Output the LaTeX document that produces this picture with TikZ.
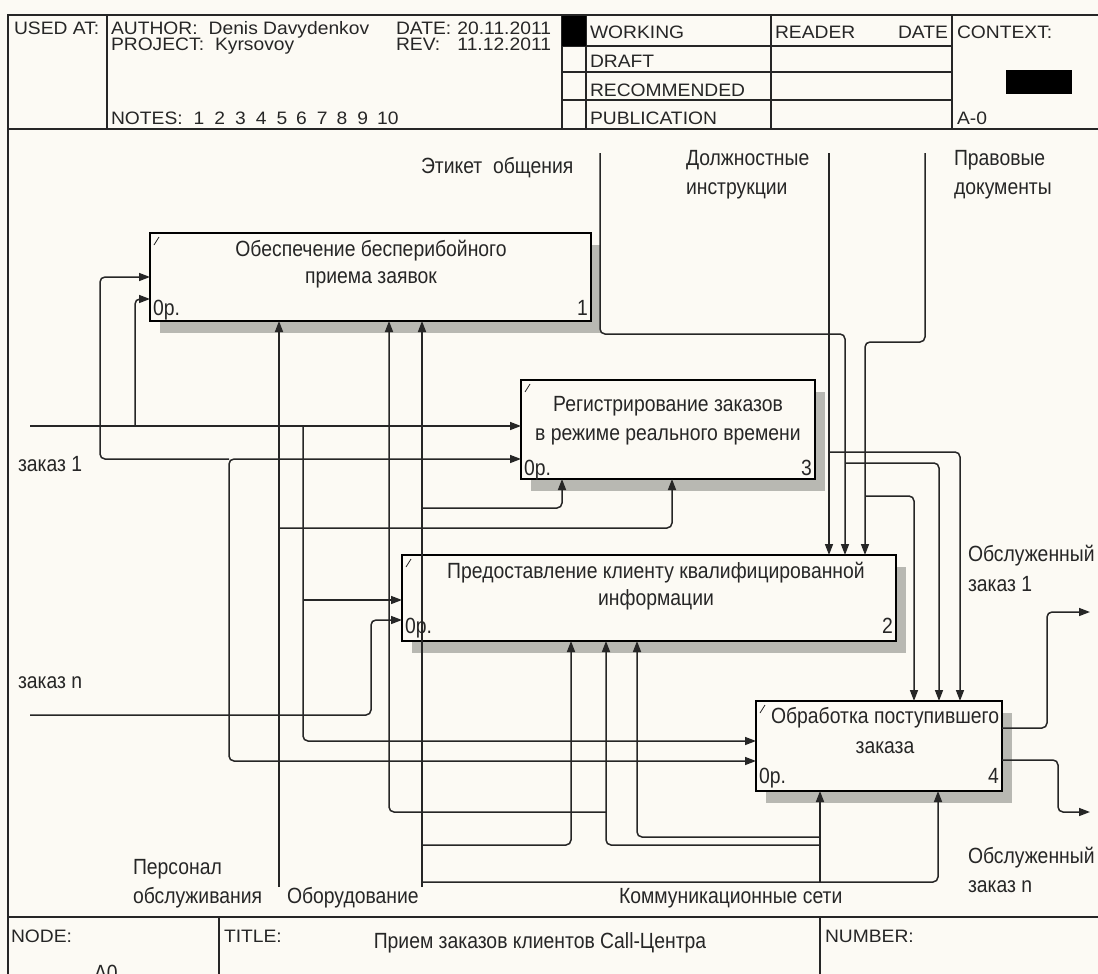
\documentclass[tikz,border=0pt]{standalone}
\usepackage{fontspec}
\setmainfont{Liberation Sans}
\newfontfamily\cond[FakeStretch=0.88]{Liberation Sans}
\newfontfamily\wide[FakeStretch=1.07]{Liberation Sans}
\usetikzlibrary{arrows.meta,shadows}
\definecolor{paper}{RGB}{252,250,244}
\definecolor{ink}{RGB}{38,38,38}
\definecolor{shade}{RGB}{184,184,178}
\begin{document}
\begin{tikzpicture}[x=1pt,y=-1pt,
  every node/.style={inner sep=0pt,outer sep=0pt,text=ink,font=\cond\fontsize{22}{26}\selectfont},
  lbl/.style={anchor=base west},
  lblc/.style={anchor=base},
  lblr/.style={anchor=base east},
  hdr/.style={font=\wide\fontsize{18}{20}\selectfont},
  frame/.style={draw=ink,line width=1.6pt},
  rule/.style={draw=ink,line width=1.3pt},
  proc/.style={draw=black,line width=1.7pt,fill=paper,anchor=north west,
     general shadow={fill=shade,shadow xshift=10pt,shadow yshift=-12pt}},
  tick/.style={draw=ink,line width=0.8pt},
  conn/.style={draw=ink,line width=1.5pt,rounded corners=5pt},
  arr/.style={conn,-{Triangle[length=11pt,width=8pt]}}]

\fill[paper] (0,0) rectangle (1098,974);
\useasboundingbox (0,0) rectangle (1098,974);

% ---------------- header ----------------
\draw[frame] (1098,15) -- (8,15) -- (8,974);
\draw[frame] (8,129) -- (1098,129);
\draw[frame] (8,917) -- (1098,917);
\draw[rule] (107,15) -- (107,129);
\draw[rule] (562,15) -- (562,129);
\draw[rule] (586,15) -- (586,129);
\draw[rule] (771,15) -- (771,129);
\draw[rule] (952,15) -- (952,129);
\draw[rule] (562,46) -- (952,46);
\draw[rule] (562,72) -- (952,72);
\draw[rule] (562,100) -- (952,100);
\fill[black] (562,16) rectangle (586,46);
\fill[black] (1006,70) rectangle (1072,94);

\node[lbl,hdr] (usedat) at (14,35) {USED AT:};
\node[lbl,hdr] (author) at (111,35) {AUTHOR:\hspace{11pt}Denis Davydenkov};
\node[lbl,hdr] (project) at (111,51) {PROJECT:\hspace{11pt}Kyrsovoy};
\node[lbl,hdr] (notes) at (111,124) {NOTES:\hspace{11pt}1\hspace{10pt}2\hspace{10pt}3\hspace{10pt}4\hspace{10pt}5\hspace{9pt}6\hspace{10pt}7\hspace{9pt}8\hspace{10pt}9\hspace{9pt}10};
\node[lbl,hdr] (datel) at (396,35) {DATE:};
\node[lblr,hdr] (datev) at (551,35) {20.11.2011};
\node[lbl,hdr] (revl) at (396,51) {REV:};
\node[lblr,hdr] (revv) at (551,51) {11.12.2011};
\node[lbl,hdr] (working) at (590,39) {WORKING};
\node[lbl,hdr] (draft) at (590,68) {DRAFT};
\node[lbl,hdr] (recom) at (590,96) {RECOMMENDED};
\node[lbl,hdr] (publ) at (590,124) {PUBLICATION};
\node[lbl,hdr] (reader) at (775,39) {READER};
\node[lblr,hdr] (rdate) at (948,39) {DATE};
\node[lbl,hdr] (context) at (957,39) {CONTEXT:};
\node[lbl,hdr] (aminus) at (957,124) {A-0};

% ---------------- footer ----------------
\draw[rule] (219,917) -- (219,974);
\draw[rule] (820,917) -- (820,974);
\node[lbl,hdr] (nodel) at (11,942) {NODE:};
\node[lbl,hdr] (titlel) at (224,942) {TITLE:};
\node[lblc] (titlev) at (540,948) {Прием заказов клиентов Call-Центра};
\node[lbl,hdr] (numberl) at (825,942) {NUMBER:};
\node[lbl] (anode) at (94,980) {A0};

% ---------------- activity boxes ----------------
\node[proc,minimum width=441pt,minimum height=88pt] (b1) at (150,233) {};
\node[proc,minimum width=294pt,minimum height=99pt] (b3) at (521,380) {};
\node[proc,minimum width=494pt,minimum height=86pt] (b2) at (402,555) {};
\node[proc,minimum width=246pt,minimum height=90pt] (b4) at (756,701) {};

\foreach \b in {b1,b2,b3,b4}{
  \draw[tick] (\b.north west) ++(4,12) -- ++(5,-8);
}

\node[lblc] (b1t1) at (371,256) {Обеспечение бесперибойного};
\node[lblc] (b1t2) at (371,283) {приема заявок};
\node[lbl]  (b1o)  at (153,315) {0р.};
\node[lblr] (b1n)  at (588,315) {1};

\node[lblc] (b3t1) at (668,411) {Регистрирование заказов};
\node[lblc] (b3t2) at (668,440) {в режиме реального времени};
\node[lbl]  (b3o)  at (524,475) {0р.};
\node[lblr] (b3n)  at (812,475) {3};

\node[lblc] (b2t1) at (656,578) {Предоставление клиенту квалифицированной};
\node[lblc] (b2t2) at (656,605) {информации};
\node[lbl]  (b2o)  at (405,633) {0р.};
\node[lblr] (b2n)  at (893,633) {2};

\node[lblc] (b4t1) at (885,723) {Обработка поступившего};
\node[lblc] (b4t2) at (885,753) {заказа};
\node[lbl]  (b4o)  at (759,783) {0р.};
\node[lblr] (b4n)  at (999,783) {4};

% ---------------- ports ----------------
\path (b1.north west) ++(0,44) coordinate (b1i1);
\path (b1.north west) ++(0,66) coordinate (b1i2);
\path (b1.south west) ++(129,0) coordinate (b1m1);
\path (b1.south west) ++(239,0) coordinate (b1m2);
\path (b1.south west) ++(272,0) coordinate (b1m3);

\path (b3.north west) ++(0,46) coordinate (b3i1);
\path (b3.north west) ++(0,79) coordinate (b3i2);
\path (b3.south west) ++(41,0) coordinate (b3m1);
\path (b3.south west) ++(151,0) coordinate (b3m2);

\path (b2.north west) ++(0,45) coordinate (b2i1);
\path (b2.north west) ++(0,65) coordinate (b2i2);
\path (b2.north west) ++(427,0) coordinate (b2c1);
\path (b2.north west) ++(443,0) coordinate (b2c2);
\path (b2.north west) ++(463,0) coordinate (b2c3);
\path (b2.south west) ++(169,0) coordinate (b2m1);
\path (b2.south west) ++(204,0) coordinate (b2m2);
\path (b2.south west) ++(235,0) coordinate (b2m3);

\path (b4.north west) ++(0,40) coordinate (b4i1);
\path (b4.north west) ++(0,60) coordinate (b4i2);
\path (b4.north west) ++(158,0) coordinate (b4c1);
\path (b4.north west) ++(183,0) coordinate (b4c2);
\path (b4.north west) ++(204,0) coordinate (b4c3);
\path (b4.south west) ++(64,0) coordinate (b4m1);
\path (b4.south west) ++(182,0) coordinate (b4m2);
\path (b4.north east) ++(0,27) coordinate (b4o1);
\path (b4.north east) ++(0,59) coordinate (b4o2);

% free ends
\coordinate (z1) at (30,426);
\coordinate (zn) at (30,715);
\coordinate (cE) at (600,153);
\coordinate (cD) at (829,153);
\coordinate (cP) at (925,153);
\coordinate (mP) at (279,887);
\coordinate (mO) at (422,887);
\coordinate (o1) at (1090,612);
\coordinate (on) at (1090,812);
\coordinate (j1) at (135,426);
\coordinate (j3) at (303,426);
\coordinate (jn) at (229,715);

% ---------------- inputs ----------------
\draw[arr] (z1) -- (b3i1);
\draw[arr] (j1) |- (b1i2);
\draw[arr] (j3) |- (b4i1);
\draw[arr] (303,600) -- (b2i1);
\draw[arr] (zn) -- (371,715) |- (b2i2);
\draw[arr] (jn) |- (b3i2);
\draw[arr] (229,459) -- (100,459) |- (b1i1);
\draw[arr] (jn) |- (b4i2);

% ---------------- controls ----------------
\draw[arr] (cD) -- (b2c1);
\draw[arr] (cE) -- (600,334) -| (b2c2);
\draw[arr] (cP) -- (925,342) -| (b2c3);
\draw[arr] (829,452) -| (b4c3);
\draw[arr] (845,463) -| (b4c2);
\draw[arr] (865,496) -| (b4c1);

% ---------------- mechanisms ----------------
\draw[arr] (mP) -- (b1m1);
\draw[arr] (279,528) -| (b3m2);
\draw[arr] (mO) -- (b1m3);
\draw[arr] (422,508) -| (b3m1);
\draw[arr] (422,845) -| (b2m1);
\draw[arr] (422,882) -| (b4m2);
\draw[arr] (820,882) -- (b4m1);
\draw[arr] (820,845) -| (b2m2);
\draw[arr] (820,837) -| (b2m3);
\draw[arr] (606,812) -| (b1m2);

% ---------------- outputs ----------------
\draw[arr] (b4o1) -- (1047,728) |- (o1);
\draw[arr] (b4o2) -- (1058,760) |- (on);

% ---------------- arrow labels ----------------
\node[lbl] (lE)  at (421,173) {Этикет~ общения};
\node[lbl] (lD1) at (686,165) {Должностные};
\node[lbl] (lD2) at (686,194) {инструкции};
\node[lbl] (lP1) at (954,165) {Правовые};
\node[lbl] (lP2) at (954,194) {документы};
\node[lbl] (lz1) at (18,471) {заказ 1};
\node[lbl] (lzn) at (18,688) {заказ n};
\node[lbl] (lo1a) at (968,561) {Обслуженный};
\node[lbl] (lo1b) at (968,591) {заказ 1};
\node[lbl] (lona) at (968,863) {Обслуженный};
\node[lbl] (lonb) at (968,892) {заказ n};
\node[lbl] (lP1m) at (133,874) {Персонал};
\node[lbl] (lP2m) at (133,903) {обслуживания};
\node[lbl] (lO)  at (287,903) {Оборудование};
\node[lbl] (lK)  at (619,903) {Коммуникационные сети};
\end{tikzpicture}
\end{document}
